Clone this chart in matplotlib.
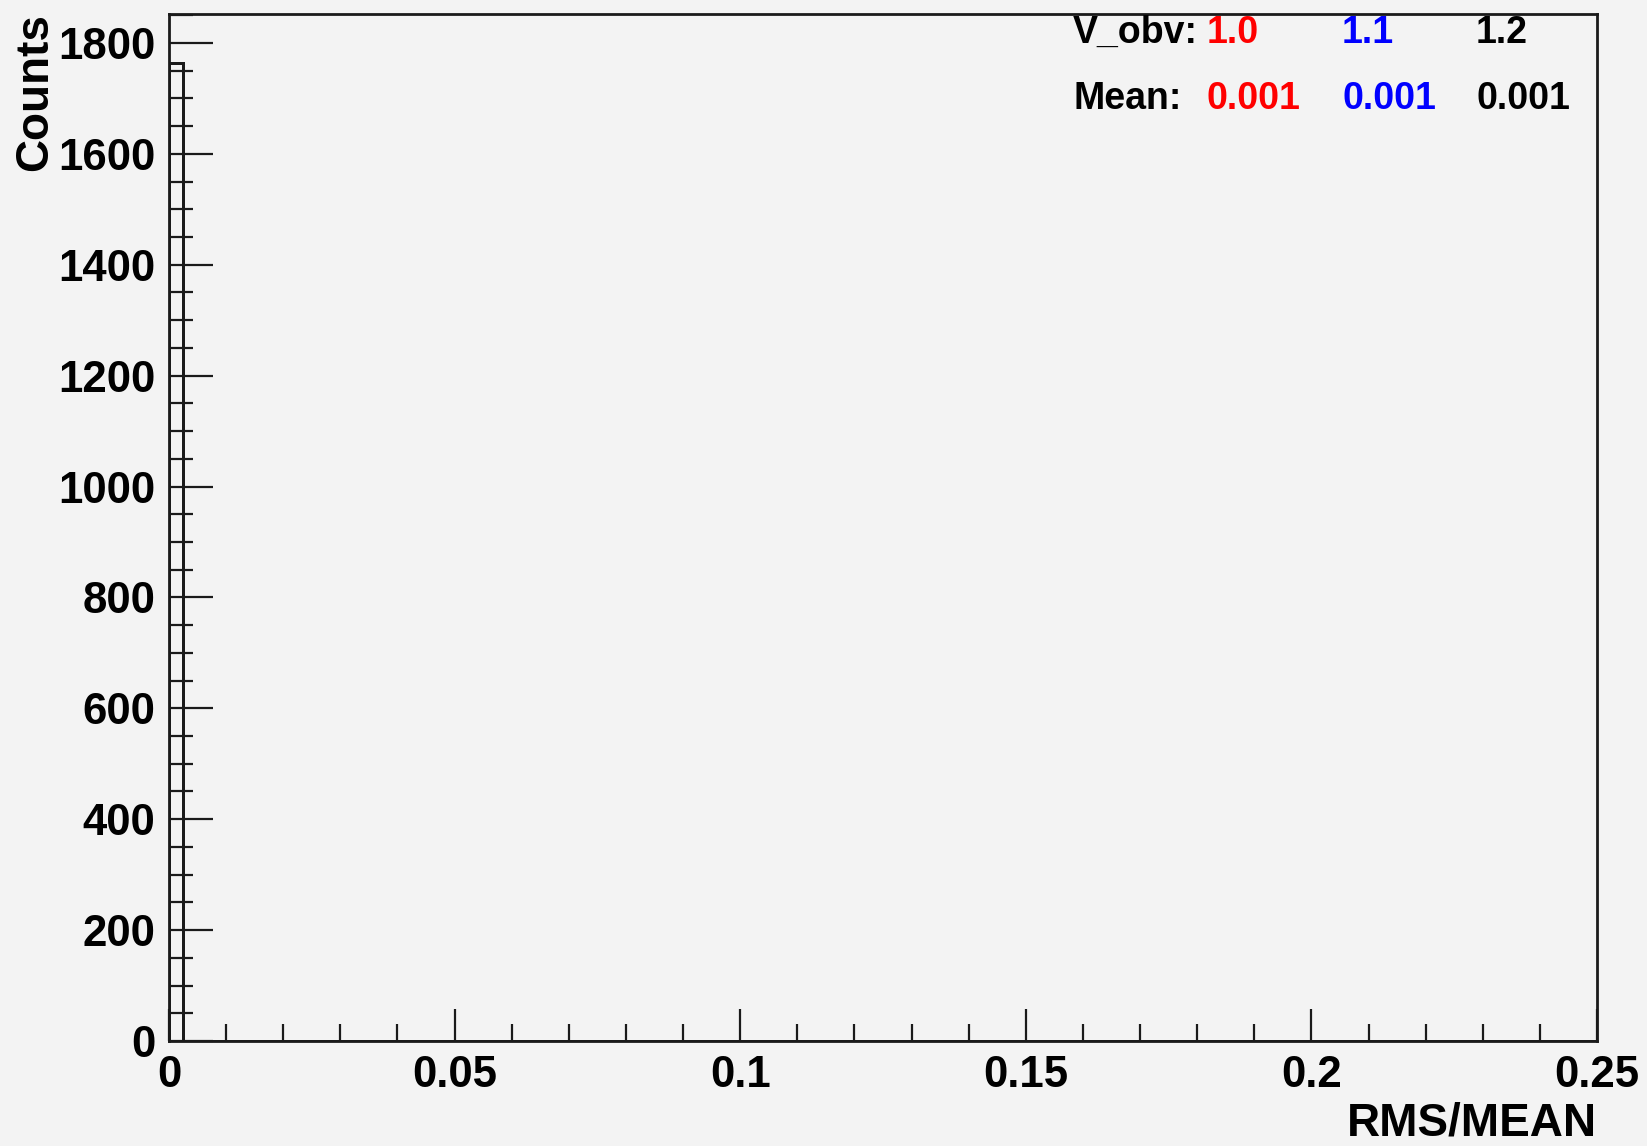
import numpy as np
import matplotlib
matplotlib.use("Agg")
import matplotlib.pyplot as plt
from matplotlib.ticker import MultipleLocator

# Histogram of RMS/MEAN for three V_obv settings (100 bins over 0..0.25)
bin_width = 0.0025
n_bins = 100
v_obv = ["1.0", "1.1", "1.2"]
means = ["0.001", "0.001", "0.001"]
colors = ["red", "blue", "black"]
counts_v10 = [1764] + [0] * (n_bins - 1)
counts_v11 = [1764] + [0] * (n_bins - 1)
counts_v12 = [1764] + [0] * (n_bins - 1)
x_ticks = [0, 0.05, 0.1, 0.15, 0.2, 0.25]
y_ticks = [0, 200, 400, 600, 800, 1000, 1200, 1400, 1600, 1800]

W, H = 1647, 1146
bg = "#f3f3f3"
font = "Liberation Sans"

fig = plt.figure(figsize=(W / 100, H / 100), dpi=100, facecolor=bg)
left, right, top, bottom = 169, 1597, 14, 1041
ax = fig.add_axes([left / W, 1 - bottom / H, (right - left) / W, (bottom - top) / H])
ax.set_facecolor(bg)

edges = np.arange(n_bins + 1) * bin_width
for counts, c in zip([counts_v10, counts_v11, counts_v12], colors):
    ax.stairs(counts, edges, baseline=0, fill=False, color="#1a1a1a", linewidth=2.0)

ymax = 1.05 * max(counts_v10 + counts_v11 + counts_v12)
ax.set_xlim(0, 0.25)
ax.set_ylim(0, ymax)

ax.set_xticks(x_ticks)
ax.set_xticklabels(["0", "0.05", "0.1", "0.15", "0.2", "0.25"])
ax.set_yticks(y_ticks)
ax.xaxis.set_minor_locator(MultipleLocator(0.01))
ax.yaxis.set_minor_locator(MultipleLocator(50))

for s in ax.spines.values():
    s.set_visible(True)
    s.set_linewidth(2.0)
    s.set_color("#1a1a1a")

ax.tick_params(axis="x", which="major", direction="in", length=23, width=1.6,
               color="#1a1a1a", top=False, pad=10)
ax.tick_params(axis="x", which="minor", direction="in", length=12, width=1.6,
               color="#1a1a1a", top=False)
ax.tick_params(axis="y", which="major", direction="in", length=32, width=1.6,
               color="#1a1a1a", right=False, pad=10)
ax.tick_params(axis="y", which="minor", direction="in", length=17, width=1.6,
               color="#1a1a1a", right=False)
for lab in ax.get_xticklabels() + ax.get_yticklabels():
    lab.set_fontfamily(font)
    lab.set_fontweight("bold")
    lab.set_fontsize(31.5)
    lab.set_color("black")

# Axis titles, right/top aligned
fig.text(1597 / W, 1 - 1124 / H, "RMS/MEAN", ha="right", va="center",
         fontsize=33, fontweight="bold", family=font)
fig.text(35 / W, 1 - 13 / H, "Counts", ha="center", va="top", rotation=90,
         fontsize=33, fontweight="bold", family=font)

# Legend text block
leg_size = 27
col_x = [1207, 1342, 1476]
row1_y, row2_y = 43, 109
fig.text(1073 / W, 1 - row1_y / H, "V_obv:", ha="left", va="baseline",
         fontsize=leg_size, fontweight="bold", family=font)
fig.text(1074 / W, 1 - row2_y / H, "Mean:", ha="left", va="baseline",
         fontsize=leg_size, fontweight="bold", family=font)
for x, v, m, c in zip(col_x, v_obv, means, colors):
    fig.text(x / W, 1 - row1_y / H, v, ha="left", va="baseline", color=c,
             fontsize=leg_size, fontweight="bold", family=font)
    fig.text(x / W, 1 - row2_y / H, m, ha="left", va="baseline", color=c,
             fontsize=leg_size, fontweight="bold", family=font)

fig.savefig("out.png", dpi=100, facecolor=bg)
